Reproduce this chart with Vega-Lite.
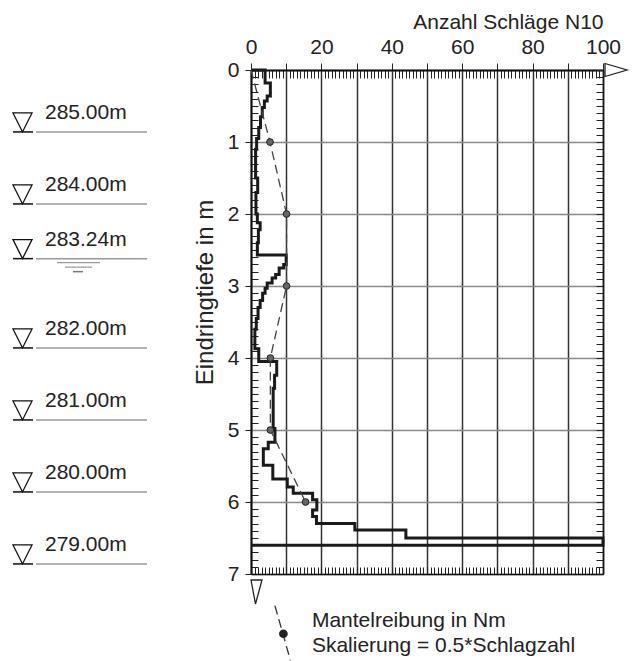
{
  "$schema": "https://vega.github.io/schema/vega-lite/v6.json",
  "background": "white",
  "padding": {"left": 0, "top": 11, "right": 4, "bottom": 0},
  "bounds": "flush",
  "spacing": 101,
  "config": {
    "view": {"stroke": null},
    "font": "Liberation Sans",
    "axis": {"labelFont": "Liberation Sans", "titleFont": "Liberation Sans", "labelFontSize": 21, "titleFontSize": 21, "labelColor": "#222", "titleColor": "#222", "titleFontWeight": "normal", "labelFlush": false, "labelBound": false, "labelOverlap": false}
  },
  "datasets": {
    "elev": [
      {"e": 285.00, "label": "285.00m"},
      {"e": 284.00, "label": "284.00m"},
      {"e": 283.24, "label": "283.24m"},
      {"e": 282.00, "label": "282.00m"},
      {"e": 281.00, "label": "281.00m"},
      {"e": 280.00, "label": "280.00m"},
      {"e": 279.00, "label": "279.00m"}
    ],
    "n10": [
      {"i": 1, "N": 0, "d": 0}, {"i": 2, "N": 4, "d": 0}, {"i": 3, "N": 4, "d": 0.18}, {"i": 4, "N": 5.5, "d": 0.18},
      {"i": 5, "N": 5.5, "d": 0.36}, {"i": 6, "N": 4.6, "d": 0.36}, {"i": 7, "N": 4.6, "d": 0.43}, {"i": 8, "N": 3.8, "d": 0.43},
      {"i": 9, "N": 3.8, "d": 0.52}, {"i": 10, "N": 3.2, "d": 0.52}, {"i": 11, "N": 3.2, "d": 0.65}, {"i": 12, "N": 2.7, "d": 0.65},
      {"i": 13, "N": 2.7, "d": 0.8}, {"i": 14, "N": 2.2, "d": 0.8}, {"i": 15, "N": 2.2, "d": 0.95}, {"i": 16, "N": 1.6, "d": 0.95},
      {"i": 17, "N": 1.6, "d": 1.1}, {"i": 18, "N": 1.3, "d": 1.1}, {"i": 19, "N": 1.3, "d": 1.5}, {"i": 20, "N": 1.9, "d": 1.5},
      {"i": 21, "N": 1.9, "d": 1.7}, {"i": 22, "N": 1.4, "d": 1.7}, {"i": 23, "N": 1.4, "d": 2.0}, {"i": 24, "N": 1.8, "d": 2.0},
      {"i": 25, "N": 1.8, "d": 2.12}, {"i": 26, "N": 2.6, "d": 2.12}, {"i": 27, "N": 2.6, "d": 2.22}, {"i": 28, "N": 2.1, "d": 2.22},
      {"i": 29, "N": 2.1, "d": 2.4}, {"i": 30, "N": 1.8, "d": 2.4}, {"i": 31, "N": 1.8, "d": 2.57}, {"i": 32, "N": 10, "d": 2.57},
      {"i": 33, "N": 10, "d": 2.70}, {"i": 34, "N": 9.3, "d": 2.70}, {"i": 35, "N": 9.3, "d": 2.75}, {"i": 36, "N": 8, "d": 2.75},
      {"i": 37, "N": 8, "d": 2.84}, {"i": 38, "N": 7, "d": 2.84}, {"i": 39, "N": 7, "d": 2.89}, {"i": 40, "N": 6, "d": 2.89},
      {"i": 41, "N": 6, "d": 2.96}, {"i": 42, "N": 4.6, "d": 2.96}, {"i": 43, "N": 4.6, "d": 3.03}, {"i": 44, "N": 4, "d": 3.03},
      {"i": 45, "N": 4, "d": 3.1}, {"i": 46, "N": 3.3, "d": 3.1}, {"i": 47, "N": 3.3, "d": 3.2}, {"i": 48, "N": 2.6, "d": 3.2},
      {"i": 49, "N": 2.6, "d": 3.3}, {"i": 50, "N": 2, "d": 3.3}, {"i": 51, "N": 2, "d": 3.45}, {"i": 52, "N": 1.5, "d": 3.45},
      {"i": 53, "N": 1.5, "d": 3.6}, {"i": 54, "N": 1.1, "d": 3.6}, {"i": 55, "N": 1.1, "d": 3.87}, {"i": 56, "N": 2.2, "d": 3.87},
      {"i": 57, "N": 2.2, "d": 4.05}, {"i": 58, "N": 7.3, "d": 4.05}, {"i": 59, "N": 7.3, "d": 4.24}, {"i": 60, "N": 6.7, "d": 4.24},
      {"i": 61, "N": 6.7, "d": 4.42}, {"i": 62, "N": 6.3, "d": 4.42}, {"i": 63, "N": 6.3, "d": 4.98}, {"i": 64, "N": 6.8, "d": 4.98},
      {"i": 65, "N": 6.8, "d": 5.17}, {"i": 66, "N": 4.9, "d": 5.17}, {"i": 67, "N": 4.9, "d": 5.26}, {"i": 68, "N": 3.5, "d": 5.26},
      {"i": 69, "N": 3.5, "d": 5.49}, {"i": 70, "N": 6.2, "d": 5.49}, {"i": 71, "N": 6.2, "d": 5.68}, {"i": 72, "N": 10.3, "d": 5.68},
      {"i": 73, "N": 10.3, "d": 5.79}, {"i": 74, "N": 12, "d": 5.79}, {"i": 75, "N": 12, "d": 5.88}, {"i": 76, "N": 17.5, "d": 5.88},
      {"i": 77, "N": 17.5, "d": 5.97}, {"i": 78, "N": 18.7, "d": 5.97}, {"i": 79, "N": 18.7, "d": 6.11}, {"i": 80, "N": 17.5, "d": 6.11},
      {"i": 81, "N": 17.5, "d": 6.2}, {"i": 82, "N": 18.6, "d": 6.2}, {"i": 83, "N": 18.6, "d": 6.3}, {"i": 84, "N": 29.5, "d": 6.3},
      {"i": 85, "N": 29.5, "d": 6.39}, {"i": 86, "N": 44, "d": 6.39}, {"i": 87, "N": 44, "d": 6.5}, {"i": 88, "N": 100, "d": 6.5},
      {"i": 89, "N": 100, "d": 6.6}, {"i": 90, "N": 0, "d": 6.6}
    ],
    "mantel": [
      {"N": 0, "d": 0}, {"N": 5.4, "d": 1}, {"N": 10.1, "d": 2}, {"N": 10.1, "d": 3},
      {"N": 5.5, "d": 4}, {"N": 5.5, "d": 5}, {"N": 15.5, "d": 6}
    ],
    "legendline": [{"N": 6.8, "d": 7.44}, {"N": 11.2, "d": 8.2}]
  },
  "hconcat": [
    {
      "width": 150,
      "height": 504,
      "layer": [
        {
          "data": {"name": "elev"},
          "mark": {"type": "rule", "color": "#9a9a9a", "strokeWidth": 1.5},
          "encoding": {
            "x": {"datum": 36, "type": "quantitative", "scale": {"domain": [0, 150], "nice": false, "zero": false}, "axis": null},
            "x2": {"datum": 147},
            "y": {"field": "e", "type": "quantitative", "scale": {"domain": [278.86, 285.86], "nice": false, "zero": false}, "axis": null}
          }
        },
        {
          "data": {"name": "elev"},
          "mark": {"type": "rule", "color": "#111", "strokeWidth": 1.5},
          "encoding": {
            "x": {"datum": 13, "type": "quantitative", "axis": null},
            "x2": {"datum": 33},
            "y": {"field": "e", "type": "quantitative", "axis": null}
          }
        },
        {
          "data": {"name": "elev"},
          "mark": {"type": "point", "shape": "M-1,-2L1,-2L0,0Z", "size": 361, "filled": false, "color": "#111", "strokeWidth": 1.3, "opacity": 1},
          "encoding": {
            "x": {"datum": 22.5, "type": "quantitative", "axis": null},
            "y": {"field": "e", "type": "quantitative", "axis": null}
          }
        },
        {
          "data": {"name": "elev"},
          "mark": {"type": "text", "align": "left", "baseline": "alphabetic", "dy": -13, "fontSize": 21, "font": "Liberation Sans", "color": "#222"},
          "encoding": {
            "x": {"datum": 45, "type": "quantitative", "axis": null},
            "y": {"field": "e", "type": "quantitative", "axis": null},
            "text": {"field": "label"}
          }
        },
        {
          "data": {"values": [{}]},
          "mark": {"type": "rule", "color": "#999", "strokeWidth": 1.2, "yOffset": 4},
          "encoding": {"x": {"datum": 57, "type": "quantitative", "axis": null}, "x2": {"datum": 100}, "y": {"datum": 283.24, "type": "quantitative", "axis": null}}
        },
        {
          "data": {"values": [{}]},
          "mark": {"type": "rule", "color": "#999", "strokeWidth": 1.2, "yOffset": 8.5},
          "encoding": {"x": {"datum": 65, "type": "quantitative", "axis": null}, "x2": {"datum": 92}, "y": {"datum": 283.24, "type": "quantitative", "axis": null}}
        },
        {
          "data": {"values": [{}]},
          "mark": {"type": "rule", "color": "#777", "strokeWidth": 1.5, "yOffset": 13},
          "encoding": {"x": {"datum": 73, "type": "quantitative", "axis": null}, "x2": {"datum": 83}, "y": {"datum": 283.24, "type": "quantitative", "axis": null}}
        }
      ]
    },
    {
      "width": 352,
      "height": 504,
      "resolve": {"axis": {"x": "independent", "y": "independent"}},
      "layer": [
        {
          "data": {"name": "n10"},
          "mark": {"type": "line", "color": "#1a1a1a", "strokeWidth": 3, "strokeJoin": "miter"},
          "encoding": {
            "x": {
              "field": "N", "type": "quantitative",
              "scale": {"domain": [0, 100], "nice": false, "zero": false},
              "axis": {
                "orient": "top", "title": "Anzahl Schläge N10", "titleAnchor": "end", "titlePadding": 4,
                "tickCount": 100,
                "labelExpr": "datum.value % 20 === 0 ? '' + datum.value : ''",
                "labelPadding": 6,
                "tickSize": {"condition": {"test": "datum.value % 10 === 0", "value": 7}, "value": -8},
                "tickColor": "#222", "tickWidth": 1,
                "grid": true, "gridColor": "#333", "gridWidth": 1.5,
                "gridOpacity": {"condition": {"test": "datum.value % 10 === 0", "value": 1}, "value": 0},
                "domainColor": "#111", "domainWidth": 2
              }
            },
            "y": {
              "field": "d", "type": "quantitative",
              "scale": {"domain": [0, 7], "reverse": true, "nice": false, "zero": false},
              "axis": {
                "orient": "left", "title": "Eindringtiefe in m", "titlePadding": 10, "titleFontSize": 24, "titleY": 222,
                "tickCount": 70,
                "labelExpr": "round(datum.value * 10) % 10 === 0 ? '' + round(datum.value) : ''",
                "labelPadding": 6,
                "tickSize": {"condition": {"test": "round(datum.value * 10) % 10 === 0", "value": 6}, "value": -7},
                "tickColor": "#222", "tickWidth": 1,
                "grid": true, "gridColor": "#888", "gridWidth": 1.5,
                "gridOpacity": {"condition": {"test": "round(datum.value * 10) % 10 === 0", "value": 1}, "value": 0},
                "domainColor": "#111", "domainWidth": 2
              }
            },
            "order": {"field": "i", "type": "quantitative"}
          }
        },
        {
          "data": {"name": "mantel"},
          "mark": {"type": "line", "color": "#444", "strokeWidth": 1.3, "strokeDash": [9, 5]},
          "encoding": {
            "x": {
              "field": "N", "type": "quantitative",
              "scale": {"domain": [0, 100], "nice": false, "zero": false},
              "axis": {"orient": "bottom", "title": null, "labels": false, "tickCount": 100, "tickSize": -7, "tickColor": "#222", "tickWidth": 1, "grid": false, "domainColor": "#111", "domainWidth": 1.5}
            },
            "y": {
              "field": "d", "type": "quantitative",
              "scale": {"domain": [0, 7], "reverse": true, "nice": false, "zero": false},
              "axis": {"orient": "right", "title": null, "labels": false, "tickCount": 70, "tickSize": -7, "tickColor": "#222", "tickWidth": 1, "grid": false, "domainColor": "#111", "domainWidth": 1.5}
            },
            "order": {"field": "d", "type": "quantitative"}
          }
        },
        {
          "data": {"name": "mantel"},
          "transform": [{"filter": "datum.d > 0"}],
          "mark": {"type": "point", "shape": "circle", "size": 45, "filled": true, "fill": "#666", "stroke": "#222", "strokeWidth": 1, "opacity": 1},
          "encoding": {
            "x": {"field": "N", "type": "quantitative", "axis": null},
            "y": {"field": "d", "type": "quantitative", "axis": null}
          }
        },
        {
          "data": {"values": [{}]},
          "mark": {"type": "point", "shape": "M0.2,-0.65L2.4,0L0.2,0.65Z", "size": 400, "filled": false, "color": "#222", "strokeWidth": 1.3, "opacity": 1},
          "encoding": {"x": {"datum": 100, "type": "quantitative", "axis": null}, "y": {"datum": 0, "type": "quantitative", "axis": null}}
        },
        {
          "data": {"values": [{}]},
          "mark": {"type": "point", "shape": "M0,0.6L1.1,0.6L0.45,3Z", "size": 400, "filled": false, "color": "#222", "strokeWidth": 1.3, "opacity": 1},
          "encoding": {"x": {"datum": 0, "type": "quantitative", "axis": null}, "y": {"datum": 7, "type": "quantitative", "axis": null}}
        },
        {
          "data": {"name": "legendline"},
          "mark": {"type": "line", "color": "#333", "strokeWidth": 1.3, "strokeDash": [9, 5]},
          "encoding": {
            "x": {"field": "N", "type": "quantitative", "axis": null},
            "y": {"field": "d", "type": "quantitative", "axis": null},
            "order": {"field": "d", "type": "quantitative"}
          }
        },
        {
          "data": {"values": [{}]},
          "mark": {"type": "point", "shape": "circle", "size": 45, "filled": true, "fill": "#222", "stroke": "#222", "opacity": 1},
          "encoding": {"x": {"datum": 9.2, "type": "quantitative", "axis": null}, "y": {"datum": 7.83, "type": "quantitative", "axis": null}}
        },
        {
          "data": {"values": [{}]},
          "mark": {"type": "text", "align": "left", "baseline": "alphabetic", "fontSize": 21, "font": "Liberation Sans", "color": "#222", "lineHeight": 24.5},
          "encoding": {
            "x": {"datum": 17.3, "type": "quantitative", "axis": null},
            "y": {"datum": 7.74, "type": "quantitative", "axis": null},
            "text": {"value": ["Mantelreibung in Nm", "Skalierung = 0.5*Schlagzahl"]}
          }
        }
      ]
    }
  ]
}
